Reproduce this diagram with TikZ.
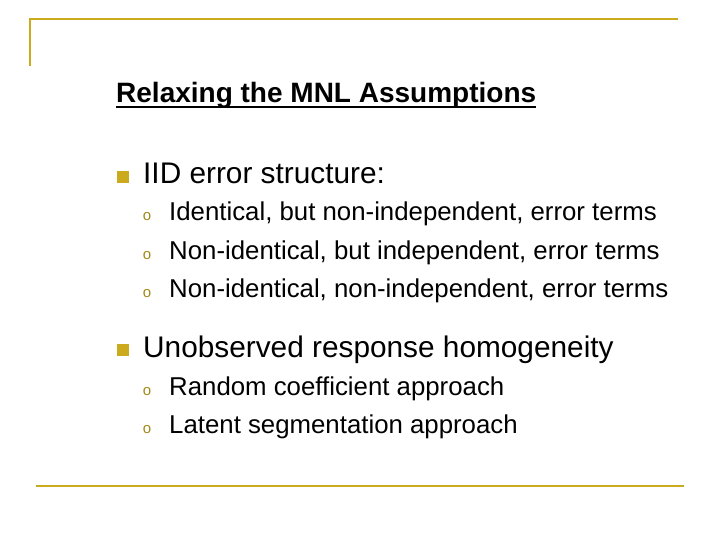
\documentclass[tikz,border=0pt]{standalone}
\usepackage{fontspec}
\setmainfont{Liberation Sans}
\definecolor{gold}{RGB}{204,170,30}
\tikzset{
  rule/.style={draw=gold,line width=2pt},
  lvlone/.style={anchor=base west,inner sep=0pt,font=\fontsize{29.8}{34}\selectfont},
  lvltwo/.style={anchor=base west,inner sep=0pt,font=\fontsize{25.8}{30}\selectfont},
  sq/.style={fill=gold,minimum size=12pt,inner sep=0pt},
  ob/.style={anchor=base,inner sep=0pt,text=gold!80!black,font=\fontsize{15}{17}\selectfont}
}
\begin{document}
\begin{tikzpicture}[x=1pt,y=-1pt]
   \useasboundingbox (0,0) rectangle (720,540);
   % frame
   \draw[rule] (30,66) -- (30,19) -- (678,19);
   \draw[rule] (36,486) -- (684,486);
   % title
   \node[anchor=base west,inner sep=0pt,font=\bfseries\fontsize{28}{32}\selectfont]
     (title) at (116,103) {Relaxing the MNL Assumptions};
   \draw[line width=1.4pt] ([yshift=-4pt]title.base west) -- ([yshift=-4pt]title.base east);
   % first block
   \node[sq] (b1) at (122.5,177) {};
   \node[lvlone] (iid) at (143,184) {IID error structure:};
   \foreach \y/\t [count=\i] in {221/{Identical, but non-independent, error terms},
                                  259/{Non-identical, but independent, error terms},
                                  297/{Non-identical, non-independent, error terms}} {
     \node[ob] (o\i) at (147,\y) {o};
     \node[lvltwo] (s\i) at (169,\y) {\t};
   }
   % second block
   \node[sq] (b2) at (122.5,350) {};
   \node[lvlone] (uoh) at (143,357) {Unobserved response homogeneity};
   \foreach \y/\t [count=\i] in {395/{Random coefficient approach},
                                  433/{Latent segmentation approach}} {
     \node[ob] (p\i) at (147,\y) {o};
     \node[lvltwo] (r\i) at (169,\y) {\t};
   }
\end{tikzpicture}
\end{document}
